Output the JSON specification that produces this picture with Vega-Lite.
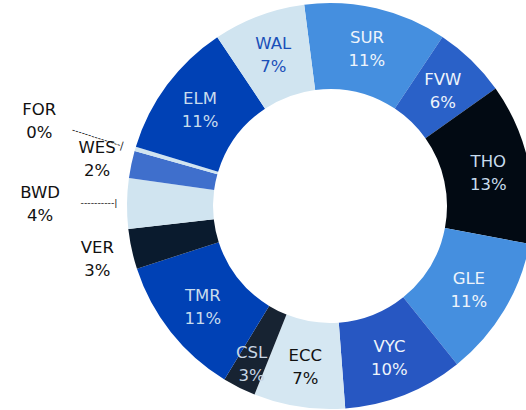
{
  "$schema": "https://vega.github.io/schema/vega-lite/v6.json",
  "width": 392,
  "height": 408,
  "autosize": {"type": "none"},
  "padding": {"left": 134, "top": 2, "right": 0, "bottom": 0},
  "background": "white",
  "view": {"stroke": null},
  "data": {
    "values": [
      {"name": "SUR", "value": 11.36},
      {"name": "FVW", "value": 5.83},
      {"name": "THO", "value": 12.8},
      {"name": "GLE", "value": 11.22},
      {"name": "VYC", "value": 9.56},
      {"name": "ECC", "value": 7.25},
      {"name": "CSL", "value": 2.64},
      {"name": "TMR", "value": 11.28},
      {"name": "VER", "value": 3.19},
      {"name": "BWD", "value": 4.0},
      {"name": "WES", "value": 2.17},
      {"name": "FOR", "value": 0.35},
      {"name": "ELM", "value": 10.9},
      {"name": "WAL", "value": 7.33}
    ]
  },
  "transform": [
    {"window": [{"op": "row_number", "as": "idx"}]},
    {"stack": "value", "groupby": [], "sort": [{"field": "idx", "order": "ascending"}], "as": ["v0", "v1"], "offset": "normalize"},
    {"calculate": "(datum.v0 + datum.v1) / 2", "as": "mid"},
    {"calculate": "datum.name + '\\n' + format(datum.value, '.0f') + '%'", "as": "label"}
  ],
  "layer": [
    {
      "mark": {"type": "arc", "innerRadius": 117, "outerRadius": 203},
      "encoding": {
        "theta": {"field": "v0", "type": "quantitative", "scale": {"domain": [0, 1], "range": [-0.1274, 6.1558]}},
        "theta2": {"field": "v1"},
        "color": {
          "field": "name", "type": "nominal", "legend": null,
          "scale": {
            "domain": ["SUR", "FVW", "THO", "GLE", "VYC", "ECC", "CSL", "TMR", "VER", "BWD", "WES", "FOR", "ELM", "WAL"],
            "range": ["#458fdf", "#2a61c8", "#020a13", "#458fdf", "#2757c2", "#d5e7f2", "#172332", "#0041b5", "#0a1b2e", "#d0e4f0", "#3f6fcc", "#d0e4f0", "#0041b5", "#d0e4f0"]
          }
        }
      }
    },
    {
      "transform": [{"filter": "indexof(['FOR','WES','BWD','VER','CSL'], datum.name) < 0"}],
      "mark": {"type": "text", "radius": 162, "dy": -10, "font": "DejaVu Sans", "fontSize": 16.5, "lineBreak": "\n", "lineHeight": 23, "align": "center", "baseline": "middle"},
      "encoding": {
        "theta": {"field": "mid", "type": "quantitative", "scale": {"domain": [0, 1], "range": [-0.1274, 6.1558]}},
        "text": {"field": "label"},
        "color": {
          "condition": [
            {"test": "datum.name === 'ECC'", "value": "#111111"},
            {"test": "datum.name === 'WAL'", "value": "#1a4fb8"},
            {"test": "indexof(['THO','TMR','ELM'], datum.name) >= 0", "value": "#c8dced"}
          ],
          "value": "#eef4fb"
        }
      }
    },
    {
      "transform": [{"filter": "datum.name === 'CSL'"}],
      "mark": {"type": "text", "radius": 175, "dy": -10, "font": "DejaVu Sans", "fontSize": 16.5, "lineBreak": "\n", "lineHeight": 23, "align": "center", "baseline": "middle", "color": "#c8d6e4"},
      "encoding": {
        "theta": {"field": "mid", "type": "quantitative", "scale": {"domain": [0, 1], "range": [-0.1274, 6.1558]}},
        "text": {"field": "label"}
      }
    },
    {
      "transform": [{"filter": "datum.name === 'WES' || datum.name === 'VER'"}],
      "mark": {"type": "text", "radius": 238, "dy": -9, "font": "DejaVu Sans", "fontSize": 16.5, "lineBreak": "\n", "lineHeight": 23, "align": "center", "baseline": "middle", "color": "#111111"},
      "encoding": {
        "theta": {"field": "mid", "type": "quantitative", "scale": {"domain": [0, 1], "range": [-0.1274, 6.1558]}},
        "text": {"field": "label"}
      }
    },
    {
      "transform": [{"filter": "datum.name === 'FOR'"}],
      "mark": {"type": "text", "radius": 303, "dy": -11, "font": "DejaVu Sans", "fontSize": 16.5, "lineBreak": "\n", "lineHeight": 23, "align": "center", "baseline": "middle", "color": "#111111"},
      "encoding": {
        "theta": {"field": "mid", "type": "quantitative", "scale": {"domain": [0, 1], "range": [-0.1274, 6.1558]}},
        "text": {"field": "label"}
      }
    },
    {
      "transform": [{"filter": "datum.name === 'BWD'"}],
      "mark": {"type": "text", "radius": 290, "dy": -9, "font": "DejaVu Sans", "fontSize": 16.5, "lineBreak": "\n", "lineHeight": 23, "align": "center", "baseline": "middle", "color": "#111111"},
      "encoding": {
        "theta": {"field": "mid", "type": "quantitative", "scale": {"domain": [0, 1], "range": [-0.1274, 6.1558]}},
        "text": {"field": "label"}
      }
    },
    {
      "transform": [{"filter": "datum.name === 'BWD'"}],
      "mark": {"type": "text", "radius": 231, "font": "DejaVu Sans", "fontSize": 9.4, "align": "center", "baseline": "middle", "color": "#111111", "text": "----------|"},
      "encoding": {
        "theta": {"field": "mid", "type": "quantitative", "scale": {"domain": [0, 1], "range": [-0.1274, 6.1558]}}
      }
    },
    {
      "transform": [{"filter": "datum.name === 'FOR'"}],
      "mark": {"type": "text", "radius": 242, "angle": 17.8, "font": "DejaVu Sans", "fontSize": 9.4, "align": "center", "baseline": "middle", "color": "#111111", "text": "---------------|"},
      "encoding": {
        "theta": {"field": "mid", "type": "quantitative", "scale": {"domain": [0, 1], "range": [-0.1274, 6.1558]}}
      }
    }
  ]
}
